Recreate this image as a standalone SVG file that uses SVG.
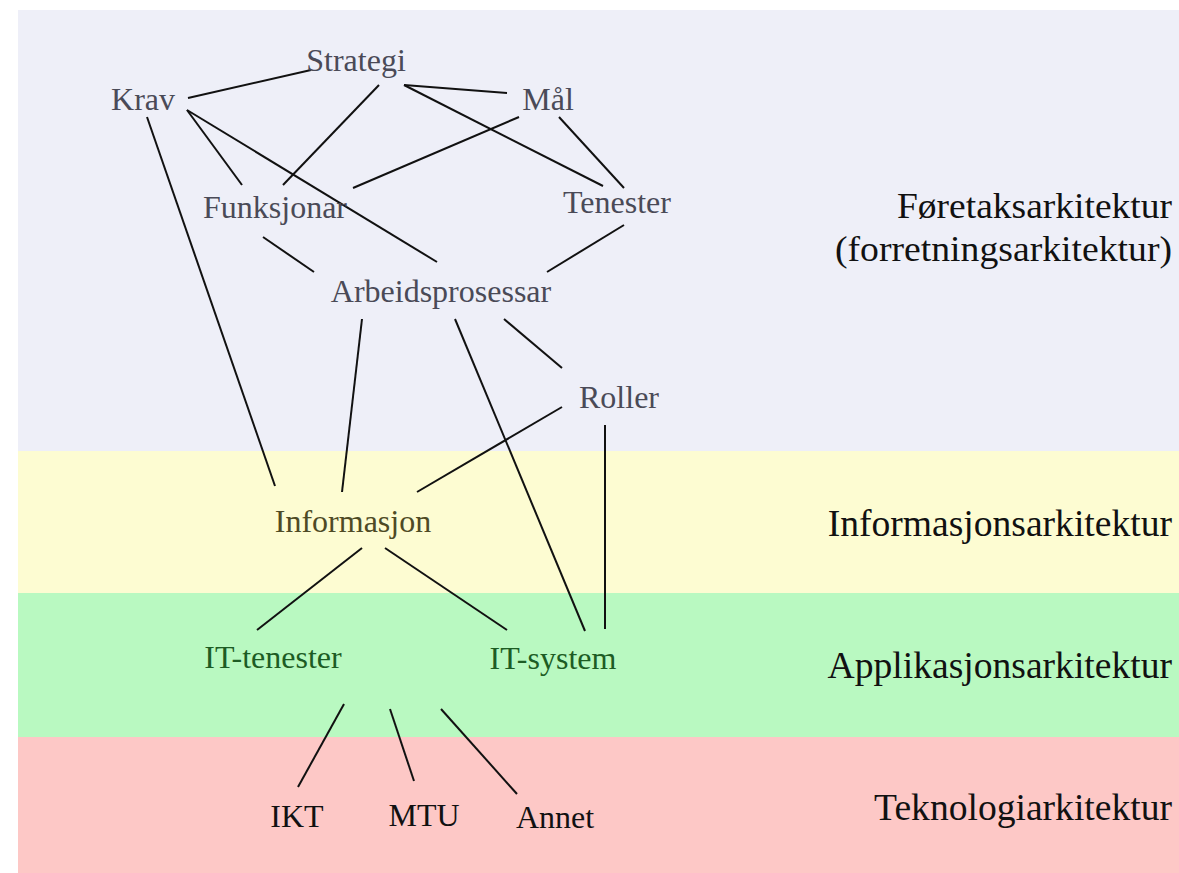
<svg xmlns="http://www.w3.org/2000/svg" width="1179" height="873" viewBox="0 0 1179 873">
<style>
.n{font-family:"Liberation Serif","Times New Roman",serif;font-size:32px;text-anchor:middle}
.t1{fill:#4a4a57}
.t2{fill:#4e4a25}
.t3{fill:#1d5c24}
.t4{fill:#111}
.lbl{font-family:"Liberation Serif","Times New Roman",serif;font-size:37.6px;text-anchor:end;fill:#111}
.lbl2{font-size:36.5px}
.c line{stroke:#111;stroke-width:2;stroke-linecap:butt}
</style>
<rect width="1179" height="873" fill="#fff"/>
<g id="bands">
<rect x="18" y="10" width="1161" height="441" fill="#eeeff8"/>
<rect x="18" y="451" width="1161" height="142" fill="#fdfcd2"/>
<rect x="18" y="593" width="1161" height="144" fill="#b9f9c1"/>
<rect x="18" y="737" width="1161" height="136" fill="#fdc8c6"/>
</g>
<g id="layer-labels">
<text class="lbl lbl2" x="1172" y="218" textLength="275" lengthAdjust="spacingAndGlyphs">Føretaksarkitektur</text>
<text class="lbl lbl2" x="1172" y="261" textLength="337" lengthAdjust="spacingAndGlyphs">(forretningsarkitektur)</text>
<text class="lbl" x="1172" y="536">Informasjonsarkitektur</text>
<text class="lbl" x="1172" y="678">Applikasjonsarkitektur</text>
<text class="lbl" x="1172" y="820">Teknologiarkitektur</text>
</g>
<g id="connectors" class="c">
<line x1="188" y1="98" x2="311" y2="70"/>
<line x1="379" y1="85" x2="283" y2="185"/>
<line x1="404" y1="85" x2="507" y2="93"/>
<line x1="404" y1="85" x2="603" y2="186"/>
<line x1="187" y1="110" x2="242" y2="185"/>
<line x1="187" y1="110" x2="437" y2="262"/>
<line x1="147" y1="117" x2="275" y2="486"/>
<line x1="519" y1="117" x2="353" y2="188"/>
<line x1="559" y1="117" x2="624" y2="188"/>
<line x1="263" y1="237" x2="314" y2="272"/>
<line x1="624" y1="225" x2="547" y2="272"/>
<line x1="362" y1="319" x2="342" y2="492"/>
<line x1="455" y1="319" x2="585" y2="631"/>
<line x1="504" y1="319" x2="562" y2="368"/>
<line x1="562" y1="407" x2="417" y2="492"/>
<line x1="605" y1="425" x2="605" y2="629"/>
<line x1="362" y1="548" x2="257" y2="630"/>
<line x1="385" y1="548" x2="507" y2="630"/>
<line x1="344" y1="704" x2="298" y2="787"/>
<line x1="390" y1="709" x2="414" y2="781"/>
<line x1="441" y1="709" x2="517" y2="794"/>
</g>
<g id="strategi"><text class="n t1" x="356" y="71">Strategi</text></g>
<g id="krav"><text class="n t1" x="143" y="110">Krav</text></g>
<g id="maal"><text class="n t1" x="548" y="110">Mål</text></g>
<g id="funksjonar"><text class="n t1" x="275" y="218">Funksjonar</text></g>
<g id="tenester"><text class="n t1" x="617" y="213">Tenester</text></g>
<g id="arbeidsprosessar"><text class="n t1" x="441" y="302">Arbeidsprosessar</text></g>
<g id="roller"><text class="n t1" x="619" y="408">Roller</text></g>
<g id="informasjon"><text class="n t2" x="353" y="532">Informasjon</text></g>
<g id="it-tenester"><text class="n t3" x="273" y="668">IT-tenester</text></g>
<g id="it-system"><text class="n t3" x="553" y="669">IT-system</text></g>
<g id="ikt"><text class="n t4" x="297" y="827">IKT</text></g>
<g id="mtu"><text class="n t4" x="424" y="826">MTU</text></g>
<g id="annet"><text class="n t4" x="555" y="828">Annet</text></g>
</svg>
